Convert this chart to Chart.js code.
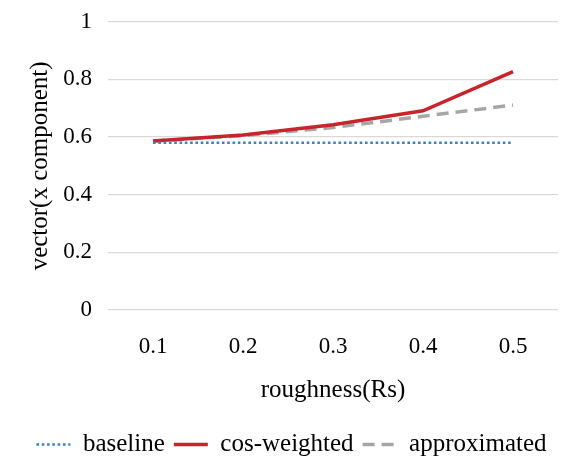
<!DOCTYPE html>
<html>
<head>
<meta charset="utf-8">
<script src="https://cdn.jsdelivr.net/npm/chart.js@4/dist/chart.umd.min.js"></script>
<style>
    html, body { margin: 0; padding: 0; background: #fff; }
    #wrap { width: 577px; height: 475px; }
</style>
</head>
<body>
<div id="wrap"><canvas id="roughChart" width="577" height="475"></canvas></div>
<script>
// chart data
const roughness = ['0.1', '0.2', '0.3', '0.4', '0.5'];
const baseline = [0.58, 0.58, 0.58, 0.58, 0.58];
const cosWeighted = [0.586, 0.607, 0.643, 0.691, 0.827];
const approximated = [0.586, 0.605, 0.633, 0.672, 0.711];
const yTicks = [0, 0.2, 0.4, 0.6, 0.8, 1];

const serif = '"Liberation Serif", "Times New Roman", serif';

document.addEventListener('DOMContentLoaded', function() {
    const ctx = document.getElementById('roughChart');

    new Chart(ctx, {
        type: 'line',
        data: {
            labels: roughness,
            datasets: [{
                label: 'baseline',
                data: baseline,
                borderColor: '#3f7ec8',
                backgroundColor: '#3f7ec8',
                borderWidth: 2.6,
                borderDash: [2.6, 2.7],
                pointRadius: 0,
                tension: 0
            }, {
                label: 'cos-weighted',
                data: cosWeighted,
                borderColor: '#c7252b',
                backgroundColor: '#c7252b',
                borderWidth: 3.5,
                pointRadius: 0,
                tension: 0
            }, {
                label: 'approximated',
                data: approximated,
                borderColor: '#a6a6a6',
                backgroundColor: '#a6a6a6',
                borderWidth: 3.5,
                borderDash: [12, 7],
                pointRadius: 0,
                tension: 0
            }]
        },
        options: {
            responsive: false,
            animation: false,
            layout: {
                padding: { top: 3, right: 19, left: 25, bottom: 8 }
            },
            plugins: {
                legend: {
                    position: 'bottom',
                    labels: {
                        usePointStyle: true,
                        pointStyle: 'line',
                        pointStyleWidth: 34,
                        padding: 9,
                        color: '#000',
                        font: { family: serif, size: 25 },
                        // keep the dataset line style in the legend swatches
                        generateLabels: function(chart) {
                            const items = Chart.defaults.plugins.legend.labels.generateLabels(chart);
                            items.forEach(item => {
                                const ds = chart.data.datasets[item.datasetIndex];
                                item.lineDash = ds.borderDash || [];
                                item.lineWidth = ds.borderWidth;
                                item.strokeStyle = ds.borderColor;
                                item.pointStyle = 'line';
                            });
                            return items;
                        }
                    }
                },
                tooltip: { enabled: false }
            },
            scales: {
                x: {
                    offset: true,
                    afterFit: function(scale) {
                        scale.height = 113;
                    },
                    grid: { display: false, drawTicks: false },
                    border: { display: false },
                    ticks: {
                        padding: 23,
                        color: '#000',
                        font: { family: serif, size: 23 }
                    },
                    title: {
                        display: true,
                        text: 'roughness(Rs)',
                        color: '#000',
                        padding: { top: 0, bottom: 18 },
                        font: { family: serif, size: 25 }
                    }
                },
                y: {
                    min: 0,
                    max: 1,
                    afterFit: function(scale) {
                        scale.width = 83;
                    },
                    afterBuildTicks: function(scale) {
                        scale.ticks = yTicks.map(v => ({ value: v }));
                    },
                    grid: { color: '#d9d9d9', lineWidth: 1.3, drawTicks: false },
                    border: { display: false },
                    ticks: {
                        padding: 16,
                        color: '#000',
                        // small line height keeps the top label overflow down
                        font: { family: serif, size: 23, lineHeight: 0.5 },
                        callback: function(value) {
                            return String(value);
                        }
                    },
                    title: {
                        display: true,
                        text: 'vector(x component)',
                        color: '#000',
                        padding: { top: 0, bottom: 0 },
                        font: { family: serif, size: 25 }
                    }
                }
            }
        }
    });
});
</script>
</body>
</html>
